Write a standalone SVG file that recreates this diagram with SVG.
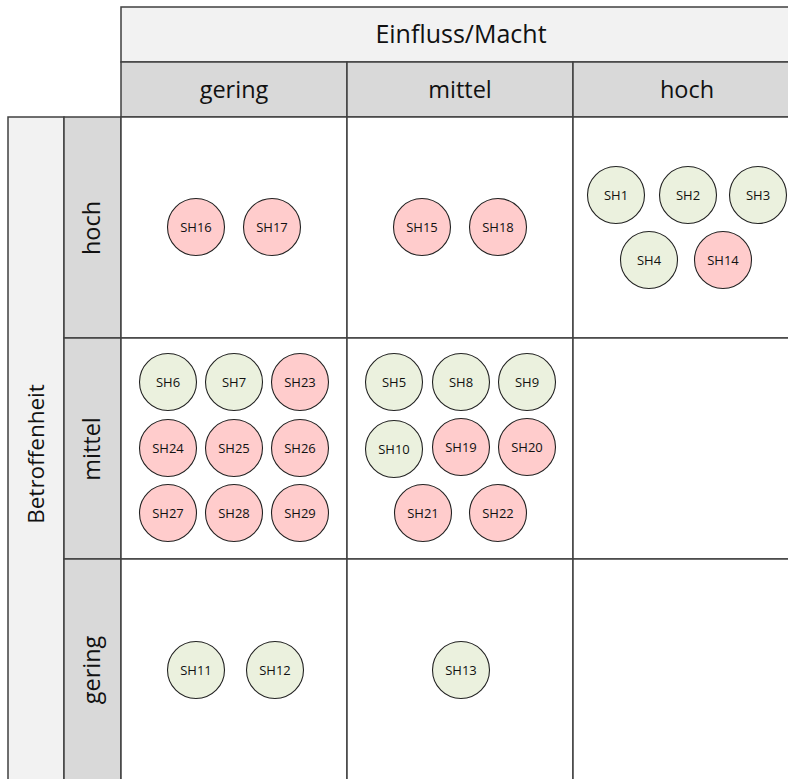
<svg xmlns="http://www.w3.org/2000/svg" width="788" height="779" viewBox="0 0 788 779">
<style>
.hd{stroke:#404040;stroke-width:1.5}
.l1{fill:#f2f2f2}
.l2{fill:#d9d9d9}
.cell{fill:#ffffff}
.t{font-family:"Open Sans","Liberation Sans",sans-serif;fill:#111;text-anchor:middle}
.big{font-size:23.5px}
.sm{font-size:13px}
.g circle{fill:#ebf1de;stroke:#222;stroke-width:1.1}
.r circle{fill:#ffcccc;stroke:#222;stroke-width:1.1}
</style>
<rect width="788" height="779" fill="#ffffff"/>
<g id="header">
<rect class="hd l1" x="121" y="7" width="670" height="55"/>
<text class="t big" style="font-size:25px" x="461" y="43">Einfluss/Macht</text>
<rect class="hd l2" x="121" y="62" width="226" height="55"/>
<rect class="hd l2" x="347" y="62" width="226" height="55"/>
<rect class="hd l2" x="573" y="62" width="218" height="55"/>
<text class="t big" x="234" y="98">gering</text>
<text class="t big" x="460" y="98">mittel</text>
<text class="t big" x="687" y="98">hoch</text>
</g>
<g id="rowheader">
<rect class="hd l1" x="8" y="117" width="56" height="670"/>
<text class="t big" style="font-size:22.5px" transform="translate(44,454) rotate(-90)">Betroffenheit</text>
<rect class="hd l2" x="64" y="117" width="57" height="221"/>
<rect class="hd l2" x="64" y="338" width="57" height="221"/>
<rect class="hd l2" x="64" y="559" width="57" height="228"/>
<text class="t big" transform="translate(100,228) rotate(-90)">hoch</text>
<text class="t big" transform="translate(100,449) rotate(-90)">mittel</text>
<text class="t big" transform="translate(100,670) rotate(-90)">gering</text>
</g>
<g id="grid">
<rect class="hd cell" x="121" y="117" width="226" height="221"/>
<rect class="hd cell" x="347" y="117" width="226" height="221"/>
<rect class="hd cell" x="573" y="117" width="218" height="221"/>
<rect class="hd cell" x="121" y="338" width="226" height="221"/>
<rect class="hd cell" x="347" y="338" width="226" height="221"/>
<rect class="hd cell" x="573" y="338" width="218" height="221"/>
<rect class="hd cell" x="121" y="559" width="226" height="228"/>
<rect class="hd cell" x="347" y="559" width="226" height="228"/>
<rect class="hd cell" x="573" y="559" width="218" height="228"/>
</g>
<g id="connectors"></g>
<g id="SH16" class="r"><circle cx="196" cy="227" r="28.5"/><text class="t sm" x="196" y="232">SH16</text></g>
<g id="SH17" class="r"><circle cx="272" cy="227" r="28.5"/><text class="t sm" x="272" y="232">SH17</text></g>
<g id="SH15" class="r"><circle cx="422" cy="227" r="28.5"/><text class="t sm" x="422" y="232">SH15</text></g>
<g id="SH18" class="r"><circle cx="498" cy="227" r="28.5"/><text class="t sm" x="498" y="232">SH18</text></g>
<g id="SH1" class="g"><circle cx="616" cy="195" r="28.5"/><text class="t sm" x="616" y="200">SH1</text></g>
<g id="SH2" class="g"><circle cx="688" cy="195" r="28.5"/><text class="t sm" x="688" y="200">SH2</text></g>
<g id="SH3" class="g"><circle cx="758" cy="195" r="28.5"/><text class="t sm" x="758" y="200">SH3</text></g>
<g id="SH4" class="g"><circle cx="649" cy="260" r="28.5"/><text class="t sm" x="649" y="265">SH4</text></g>
<g id="SH14" class="r"><circle cx="723" cy="260" r="28.5"/><text class="t sm" x="723" y="265">SH14</text></g>
<g id="SH6" class="g"><circle cx="168" cy="382" r="28.5"/><text class="t sm" x="168" y="387">SH6</text></g>
<g id="SH7" class="g"><circle cx="234" cy="382" r="28.5"/><text class="t sm" x="234" y="387">SH7</text></g>
<g id="SH23" class="r"><circle cx="300" cy="382" r="28.5"/><text class="t sm" x="300" y="387">SH23</text></g>
<g id="SH24" class="r"><circle cx="168" cy="448" r="28.5"/><text class="t sm" x="168" y="453">SH24</text></g>
<g id="SH25" class="r"><circle cx="234" cy="448" r="28.5"/><text class="t sm" x="234" y="453">SH25</text></g>
<g id="SH26" class="r"><circle cx="300" cy="448" r="28.5"/><text class="t sm" x="300" y="453">SH26</text></g>
<g id="SH27" class="r"><circle cx="168" cy="513" r="28.5"/><text class="t sm" x="168" y="518">SH27</text></g>
<g id="SH28" class="r"><circle cx="234" cy="513" r="28.5"/><text class="t sm" x="234" y="518">SH28</text></g>
<g id="SH29" class="r"><circle cx="300" cy="513" r="28.5"/><text class="t sm" x="300" y="518">SH29</text></g>
<g id="SH5" class="g"><circle cx="394" cy="382" r="28.5"/><text class="t sm" x="394" y="387">SH5</text></g>
<g id="SH8" class="g"><circle cx="461" cy="382" r="28.5"/><text class="t sm" x="461" y="387">SH8</text></g>
<g id="SH9" class="g"><circle cx="527" cy="382" r="28.5"/><text class="t sm" x="527" y="387">SH9</text></g>
<g id="SH10" class="g"><circle cx="394" cy="449" r="28.5"/><text class="t sm" x="394" y="454">SH10</text></g>
<g id="SH19" class="r"><circle cx="461" cy="447" r="28.5"/><text class="t sm" x="461" y="452">SH19</text></g>
<g id="SH20" class="r"><circle cx="527" cy="447" r="28.5"/><text class="t sm" x="527" y="452">SH20</text></g>
<g id="SH21" class="r"><circle cx="423" cy="513" r="28.5"/><text class="t sm" x="423" y="518">SH21</text></g>
<g id="SH22" class="r"><circle cx="498" cy="513" r="28.5"/><text class="t sm" x="498" y="518">SH22</text></g>
<g id="SH11" class="g"><circle cx="196" cy="670" r="28.5"/><text class="t sm" x="196" y="675">SH11</text></g>
<g id="SH12" class="g"><circle cx="275" cy="670" r="28.5"/><text class="t sm" x="275" y="675">SH12</text></g>
<g id="SH13" class="g"><circle cx="461" cy="670" r="28.5"/><text class="t sm" x="461" y="675">SH13</text></g>
</svg>
